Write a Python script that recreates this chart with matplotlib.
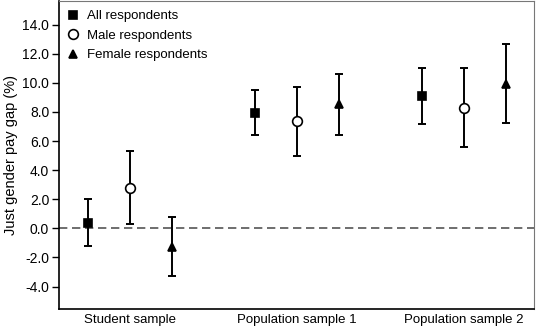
import numpy as np
import matplotlib.pyplot as plt

plt.rcParams['font.family'] = ['Liberation Sans', 'DejaVu Sans']

groups = ["Student sample", "Population sample 1", "Population sample 2"]

all_mean = np.array([0.4, 7.9, 9.1])
all_lo = np.array([-1.2, 6.4, 7.2])
all_hi = np.array([2.0, 9.5, 11.0])

male_mean = np.array([2.8, 7.4, 8.3])
male_lo = np.array([0.3, 5.0, 5.6])
male_hi = np.array([5.3, 9.7, 11.0])

female_mean = np.array([-1.25, 8.55, 9.95])
female_lo = np.array([-3.3, 6.4, 7.25])
female_hi = np.array([0.8, 10.6, 12.7])

fig = plt.figure(figsize=(5.36, 3.28), dpi=100)
ax = fig.add_axes([0.110, 0.057, 0.887, 0.941])

x = np.arange(len(groups))
off = 0.25

ax.axhline(0, color="#555555", ls=(0, (5, 2.8)), lw=1.2, zorder=1)

series = [
    (all_mean, all_lo, all_hi, -off, dict(marker="s", mfc="black", ms=5.5), "All respondents"),
    (male_mean, male_lo, male_hi, 0, dict(marker="o", mfc="white", ms=7), "Male respondents"),
    (female_mean, female_lo, female_hi, off, dict(marker="^", mfc="black", ms=6.3), "Female respondents"),
]
for mean, lo, hi, dx, mk, lab in series:
    yerr = np.vstack([mean - lo, hi - mean])
    ax.errorbar(x + dx, mean, yerr=yerr, fmt="none", ecolor="black", elinewidth=1.4,
                capsize=2.8, capthick=1.4, zorder=2)
    ax.plot(x + dx, mean, ls="none", mec="black", mew=1.2, label=lab, zorder=3, **mk)

ax.set_xlim(-0.425, 2.42)
ax.set_ylim(-5.56, 15.65)
ax.set_xticks(x)
ax.set_xticklabels(groups, fontsize=9.5)
ax.tick_params(axis="x", length=0, pad=3.5)
ax.set_yticks(np.arange(-4, 15, 2))
ax.set_yticklabels(["%.1f" % v for v in np.arange(-4, 15, 2)], fontsize=10)
ax.tick_params(axis="y", length=5, width=1, pad=2)
ax.set_ylabel("Just gender pay gap (%)", fontsize=10.5, labelpad=3)
for s in ["left", "bottom"]:
    ax.spines[s].set_linewidth(1.2)
for s in ["top", "right"]:
    ax.spines[s].set_color("#777777")

ax.legend(loc="upper left", frameon=False, fontsize=9.5, handletextpad=0.6,
          handlelength=0.8, borderaxespad=0.3, borderpad=0.4, labelspacing=0.56)

fig.savefig("out.png", dpi=100)
